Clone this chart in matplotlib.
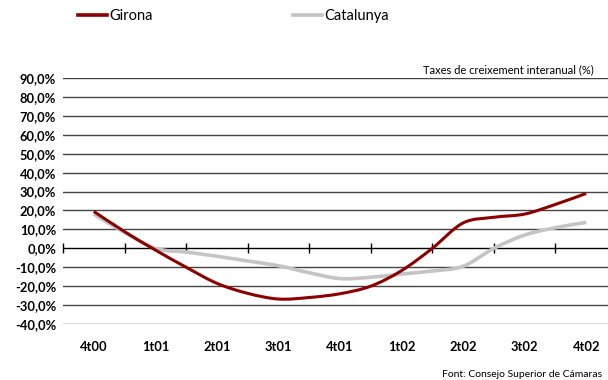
import numpy as np
import matplotlib
matplotlib.use("Agg")
from matplotlib import pyplot as plt
from matplotlib.path import Path
from matplotlib.patches import PathPatch
from matplotlib.lines import Line2D

# quarters (labels) and half-quarter readings of the two series
quarters = ["4t00", "1t01", "2t01", "3t01", "4t01", "1t02", "2t02", "3t02", "4t02"]
pos = np.arange(0, 8.01, 0.5)
girona = [19.5, 8.8, -0.9, -10.0, -18.5, -23.8, -26.8, -26.0, -24.0,
          -20.0, -11.8, 0.0, 13.4, 16.4, 18.1, 23.2, 29.0]
catalunya = [18.1, 8.3, 0.0, -2.0, -4.2, -6.7, -9.2, -12.9, -16.0,
             -15.3, -13.6, -12.0, -9.5, 0.0, 7.0, 10.9, 13.7]
yticks = np.arange(-40, 91, 10)

RED = "#8b0000"
GREY = "#c4c4c4"

plt.rcParams['font.family'] = ['Lato', 'DejaVu Sans']


def smooth_path(x, y):
    # excel-like smoothed line: cubic bezier segments through the points
    x = np.asarray(x, float); y = np.asarray(y, float)
    verts = [(x[0], y[0])]
    codes = [Path.MOVETO]
    n = len(x)
    for i in range(n - 1):
        p0 = (x[max(i - 1, 0)], y[max(i - 1, 0)])
        p1 = (x[i], y[i])
        p2 = (x[i + 1], y[i + 1])
        p3 = (x[min(i + 2, n - 1)], y[min(i + 2, n - 1)])
        c1 = (p1[0] + (p2[0] - p0[0]) / 6, p1[1] + (p2[1] - p0[1]) / 6)
        c2 = (p2[0] - (p3[0] - p1[0]) / 6, p2[1] - (p3[1] - p1[1]) / 6)
        verts += [c1, c2, p2]
        codes += [Path.CURVE4] * 3
    return Path(verts, codes)


fig = plt.figure(figsize=(6.08, 3.8), dpi=100)
ax = fig.add_axes([63/608, 56/380, 554/608, 246/380])

for y in yticks:
    if y != 0:
        ax.axhline(y, color="#444444", lw=1.0, zorder=1)
ax.axhline(0, color="black", lw=1.0, zorder=1)
bounds = np.arange(len(quarters) + 1) - 0.5
ax.plot(bounds, np.zeros_like(bounds), ls="none", marker="|", ms=7, mew=1.0,
        color="black", zorder=1, clip_on=False)

ax.add_patch(PathPatch(smooth_path(pos, catalunya), fill=False, edgecolor=GREY,
                       lw=2.6, capstyle="butt", joinstyle="round", zorder=2))
ax.add_patch(PathPatch(smooth_path(pos, girona), fill=False, edgecolor=RED,
                       lw=2.2, capstyle="butt", joinstyle="round", zorder=3))

ax.set_xlim(-0.5, len(quarters) - 0.5)
ax.set_ylim(-40, 90)
ax.set_yticks(yticks)
ax.set_yticklabels([f"{v:.1f}%".replace(".", ",") for v in yticks],
                   fontsize=9.3, fontweight="bold")
ax.set_xticks(np.arange(len(quarters)))
ax.set_xticklabels(quarters, fontsize=9.3, fontweight="bold")
ax.tick_params(axis="both", length=0)
ax.tick_params(axis="y", pad=5)
ax.tick_params(axis="x", pad=12)
for s in ax.spines.values():
    s.set_visible(False)

handles = [Line2D([], [], color=RED, lw=2.6), Line2D([], [], color=GREY, lw=2.6)]
fig.legend(handles, ["Girona", "Catalunya"], loc="center left",
           bbox_to_anchor=(78/608, 1 - 16/380), ncol=2, frameon=False, fontsize=10.5,
           handlelength=2.0, handletextpad=0.15, columnspacing=9.6,
           borderpad=0, borderaxespad=0)

fig.text(423/608, 1 - 70/380, "Taxes de creixement interanual (%)", fontsize=8,
         ha="left", va="center")
fig.text(442/608, 1 - 370/380, "Font: Consejo Superior de Cámaras", fontsize=7.5,
         ha="left", va="top")

fig.savefig("out.png", dpi=100)
